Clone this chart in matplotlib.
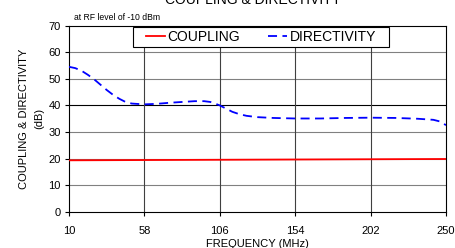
import matplotlib
matplotlib.use("Agg")
import matplotlib.pyplot as plt
from matplotlib.patches import Rectangle
import numpy as np

plt.rcParams['font.family'] = ['Liberation Sans', 'DejaVu Sans']

# Data
freq_dir = [10, 14, 18, 22, 26, 30, 34, 38, 42, 46, 50, 58, 66, 74, 82, 90, 96, 100, 103, 106, 110, 114, 118, 123, 130, 140, 154, 170, 186, 202, 218, 232, 242, 246, 250]
directivity = [54.5, 54.0, 53.0, 51.5, 49.8, 47.8, 45.8, 44.0, 42.5, 41.3, 40.7, 40.4, 40.6, 41.0, 41.3, 41.6, 41.6, 41.3, 40.7, 40.0, 38.8, 37.6, 36.8, 36.1, 35.6, 35.3, 35.1, 35.1, 35.3, 35.4, 35.3, 35.0, 34.6, 34.0, 32.6]
freq_cpl = [10, 58, 106, 154, 202, 250]
coupling = [19.4, 19.5, 19.6, 19.7, 19.8, 19.9]
xticks = [10, 58, 106, 154, 202, 250]
yticks = [0, 10, 20, 30, 40, 50, 60, 70]

W, H = 456, 248
fig = plt.figure(figsize=(W / 100, H / 100), dpi=100)
ax = fig.add_axes([69/W, 1 - 212/H, (446 - 69)/W, (212 - 25.5)/H])

ax.plot(freq_cpl, coupling, color='#ff0000', lw=1.3, label='COUPLING', zorder=3)
ax.plot(freq_dir, directivity, color='#0000ff', lw=1.3, ls=(0, (5, 3)), label='DIRECTIVITY', zorder=3)

ax.set_xlim(10, 250)
ax.set_ylim(0, 70)
ax.set_xticks(xticks)
ax.set_yticks(yticks)
ax.tick_params(labelsize=8, length=3, width=0.8, direction='out')
ax.tick_params(axis='x', pad=7)
ax.tick_params(axis='y', pad=3)

for y in yticks[1:-1]:
    ax.axhline(y, color='black' if y == 40 else '#808080', lw=0.8, zorder=1)
for x in xticks[1:-1]:
    ax.axvline(x, color='#404040', lw=0.8, zorder=1)
for s in ax.spines.values():
    s.set_linewidth(0.8)
    s.set_color('black')

ax.set_xlabel('FREQUENCY (MHz)', fontsize=8, labelpad=2)
ax.set_ylabel('COUPLING & DIRECTIVITY\n(dB)', fontsize=8, labelpad=3, linespacing=1.6)

# legend box (frame)
lx0, lx1, ly0, ly1 = 133, 389, 27, 47
fig.patches.append(Rectangle((lx0 / W, 1 - ly1 / H), (lx1 - lx0) / W, (ly1 - ly0) / H,
                             transform=fig.transFigure, facecolor='white', edgecolor='black',
                             lw=0.8, zorder=4))
leg = fig.legend(loc='center', bbox_to_anchor=((lx0 + lx1) / 2 / W, 1 - (ly0 + ly1) / 2 / H),
                 ncol=2, fontsize=10, frameon=False, borderpad=0, borderaxespad=0,
                 handlelength=1.35, columnspacing=2.0, handletextpad=0.2)
leg.set_zorder(5)

fig.text(74/W, 1 - 17/H, 'at RF level of -10 dBm', fontsize=6.2, va='center', ha='left')
fig.text(253/W, 1 - 4/H, 'COUPLING & DIRECTIVITY', fontsize=10, va='baseline', ha='center')

fig.savefig('out.png', dpi=100)
